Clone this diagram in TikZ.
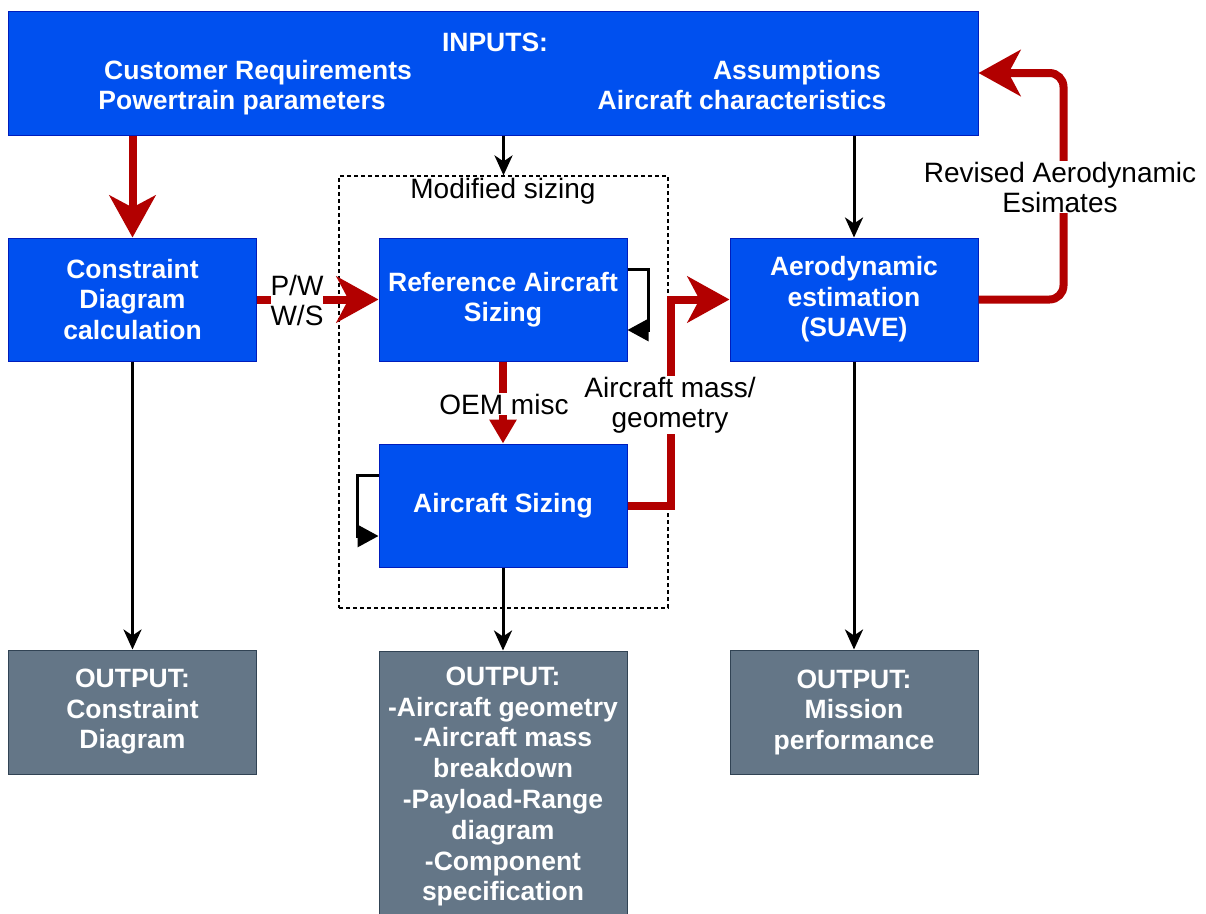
\documentclass[tikz,border=0pt]{standalone}
\usepackage{fontspec}
\setmainfont{Liberation Sans}
\usetikzlibrary{arrows.meta}
\definecolor{dblue}{HTML}{0050EF}
\definecolor{dblueb}{HTML}{001DBC}
\definecolor{dgray}{HTML}{647687}
\definecolor{dgrayb}{HTML}{314354}
\definecolor{dred}{HTML}{B20000}
\tikzset{
  bluebox/.style={draw=dblueb, fill=dblue, line width=1pt, text=white,
    font=\fontsize{26.5}{30.5}\selectfont\bfseries, align=center,
    minimum width=248pt, minimum height=123pt, inner sep=0pt},
  graybox/.style={bluebox, draw=dgrayb, fill=dgray},
  intext/.style={text=white, font=\fontsize{26.5}{30}\selectfont\bfseries,
    inner sep=0pt, text height=19pt, text depth=6pt},
  lbl/.style={fill=white, font=\fontsize{28}{30}\selectfont, align=center, inner sep=1pt},
  dashbox/.style={draw, dashed, dash pattern=on 4pt off 3pt, line width=1.2pt,
    minimum width=329pt, minimum height=432pt, inner sep=0pt},
  redarr/.style={draw=dred, line width=8pt, -{Stealth[length=42pt,width=46pt,inset=12pt]}},
  redsmall/.style={draw=dred, line width=8pt, -{Triangle[length=24pt,width=26pt]}},
  blkarr/.style={draw=black, line width=3pt, -{Stealth[length=20pt,width=18pt,inset=6pt]}},
  looparr/.style={draw=black, line width=3pt, -{Triangle[length=21pt,width=22pt]}}
}
\begin{document}
\begin{tikzpicture}[x=1pt,y=-1pt]
\useasboundingbox (0,0) rectangle (1206,913);
\fill[white] (0,0) rectangle (1206,913);

% dashed group
\node[dashbox] (mod) at (503.5,392) {};
\node[font=\fontsize{28}{30}\selectfont, inner sep=0pt] (modlbl) at (503,191) {Modified sizing};

% boxes
\node[bluebox, minimum width=970pt, minimum height=124pt] (inputs) at (493,73) {};
\node[intext] (inT) at (495,45) {INPUTS:};
\node[intext] (inA) at (258,73) {Customer Requirements};
\node[intext] (inB) at (242,103) {Powertrain parameters};
\node[intext] (inC) at (797,73) {Assumptions};
\node[intext] (inD) at (742,103) {Aircraft characteristics};

\node[bluebox] (cons) at (132.5,299.5) {Constraint\\Diagram\\calculation};
\node[bluebox] (ref) at (503,299.5) {Reference Aircraft\\Sizing};
\node[bluebox] (acs) at (503,505.5) {Aircraft Sizing};
\node[bluebox] (aero) at (854,299.5) {Aerodynamic\\estimation\\(SUAVE)};

\node[graybox, minimum height=124pt] (out1) at (132.5,712) {OUTPUT:\\Constraint\\Diagram};
\node[graybox, minimum height=271pt, font=\fontsize{26.5}{30.8}\selectfont\bfseries] (out2) at (503,786.5)
  {OUTPUT:\\-Aircraft geometry\\-Aircraft mass\\breakdown\\-Payload-Range\\diagram\\-Component\\specification};
\node[graybox, minimum height=124pt] (out3) at (854,712) {OUTPUT:\\Mission\\performance};

% connectors
\draw[redarr] (inputs.south -| cons) -- (cons.north);
\draw[blkarr] (inputs.south -| mod) -- (mod.north);
\draw[blkarr] (inputs.south -| aero) -- (aero.north);

\draw[redarr] (cons.east) -- (ref.west);
\node[lbl, inner sep=0pt] (pw) at (297,300) {P/W\\W/S};

\draw[looparr] ([yshift=30.5pt]ref.east) -- ++(21,0) -- ++(0,61) -- ([yshift=-30.5pt]ref.east);
\draw[looparr] ([yshift=30.5pt]acs.west) -- ++(-21,0) -- ++(0,61) -- ([yshift=-30.5pt]acs.west);

\draw[redsmall] (ref.south) -- (acs.north);
\node[lbl] (oem) at (504,404) {OEM misc};

\draw[redarr] (acs.east) -- ++(43,0) |- (aero.west);
\node[lbl] (mass) at (670,405) {Aircraft mass/\\geometry};

\draw[redarr, rounded corners=14pt] (aero.east) -- ++(85,0) |- (inputs.east);
\node[lbl] (rev) at (1060,187) {Revised Aerodynamic\\Esimates};

\draw[blkarr] (cons.south) -- (out1.north);
\draw[blkarr] (acs.south) -- (out2.north);
\draw[blkarr] (aero.south) -- (out3.north);
\end{tikzpicture}
\end{document}
